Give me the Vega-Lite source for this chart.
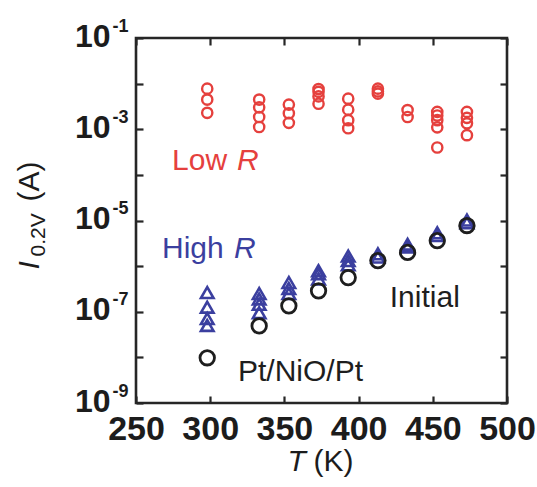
{
  "$schema": "https://vega.github.io/schema/vega-lite/v6.json",
  "width": 371,
  "height": 365,
  "autosize": "none",
  "padding": {"left": 136, "top": 38, "right": 30, "bottom": 84},
  "background": "white",
  "config": {
    "font": "Liberation Sans",
    "view": {"stroke": "#262626", "strokeWidth": 2.6},
    "axis": {
      "domain": false,
      "grid": false,
      "tickSize": -7,
      "tickWidth": 2.2,
      "tickColor": "#262626",
      "labelColor": "#1c1c1c",
      "titleColor": "#1c1c1c",
      "labelFont": "Liberation Sans",
      "titleFont": "Liberation Sans",
      "labelFlush": false,
      "labelOverlap": false,
      "labelBound": false,
      "titleFontWeight": "normal",
      "titleFontSize": 30,
      "titlePadding": 0
    }
  },
  "datasets": {
    "points": [
      {"series": "Low R", "T": 298, "I": 0.00776},
      {"series": "Low R", "T": 298, "I": 0.00447},
      {"series": "Low R", "T": 298, "I": 0.00229},
      {"series": "Low R", "T": 333, "I": 0.00447},
      {"series": "Low R", "T": 333, "I": 0.00302},
      {"series": "Low R", "T": 333, "I": 0.00186},
      {"series": "Low R", "T": 333, "I": 0.00112},
      {"series": "Low R", "T": 353, "I": 0.00347},
      {"series": "Low R", "T": 353, "I": 0.00224},
      {"series": "Low R", "T": 353, "I": 0.00138},
      {"series": "Low R", "T": 373, "I": 0.00759},
      {"series": "Low R", "T": 373, "I": 0.00661},
      {"series": "Low R", "T": 373, "I": 0.00525},
      {"series": "Low R", "T": 373, "I": 0.00363},
      {"series": "Low R", "T": 393, "I": 0.00468},
      {"series": "Low R", "T": 393, "I": 0.00269},
      {"series": "Low R", "T": 393, "I": 0.00158},
      {"series": "Low R", "T": 393, "I": 0.00105},
      {"series": "Low R", "T": 413, "I": 0.00776},
      {"series": "Low R", "T": 413, "I": 0.00676},
      {"series": "Low R", "T": 413, "I": 0.00603},
      {"series": "Low R", "T": 433, "I": 0.00263},
      {"series": "Low R", "T": 433, "I": 0.00186},
      {"series": "Low R", "T": 453, "I": 0.00240},
      {"series": "Low R", "T": 453, "I": 0.00200},
      {"series": "Low R", "T": 453, "I": 0.00158},
      {"series": "Low R", "T": 453, "I": 0.00110},
      {"series": "Low R", "T": 453, "I": 0.000398},
      {"series": "Low R", "T": 473, "I": 0.00240},
      {"series": "Low R", "T": 473, "I": 0.00178},
      {"series": "Low R", "T": 473, "I": 0.00135},
      {"series": "Low R", "T": 473, "I": 0.000741},
      {"series": "High R", "T": 298, "I": 2.63e-7},
      {"series": "High R", "T": 298, "I": 1.26e-7},
      {"series": "High R", "T": 298, "I": 7.08e-8},
      {"series": "High R", "T": 298, "I": 5.01e-8},
      {"series": "High R", "T": 333, "I": 2.51e-7},
      {"series": "High R", "T": 333, "I": 1.91e-7},
      {"series": "High R", "T": 333, "I": 1.45e-7},
      {"series": "High R", "T": 333, "I": 9.55e-8},
      {"series": "High R", "T": 353, "I": 4.37e-7},
      {"series": "High R", "T": 353, "I": 3.24e-7},
      {"series": "High R", "T": 353, "I": 2.51e-7},
      {"series": "High R", "T": 373, "I": 7.94e-7},
      {"series": "High R", "T": 373, "I": 6.76e-7},
      {"series": "High R", "T": 373, "I": 5.25e-7},
      {"series": "High R", "T": 393, "I": 1.66e-6},
      {"series": "High R", "T": 393, "I": 1.32e-6},
      {"series": "High R", "T": 393, "I": 1.07e-6},
      {"series": "High R", "T": 413, "I": 1.86e-6},
      {"series": "High R", "T": 413, "I": 1.58e-6},
      {"series": "High R", "T": 433, "I": 3.02e-6},
      {"series": "High R", "T": 433, "I": 2.63e-6},
      {"series": "High R", "T": 453, "I": 5.37e-6},
      {"series": "High R", "T": 453, "I": 4.68e-6},
      {"series": "High R", "T": 473, "I": 1.02e-5},
      {"series": "High R", "T": 473, "I": 8.91e-6},
      {"series": "Initial", "T": 298, "I": 9.8e-9},
      {"series": "Initial", "T": 333, "I": 4.9e-8},
      {"series": "Initial", "T": 353, "I": 1.35e-7},
      {"series": "Initial", "T": 373, "I": 2.88e-7},
      {"series": "Initial", "T": 393, "I": 5.6e-7},
      {"series": "Initial", "T": 413, "I": 1.32e-6},
      {"series": "Initial", "T": 433, "I": 2.0e-6},
      {"series": "Initial", "T": 453, "I": 3.63e-6},
      {"series": "Initial", "T": 473, "I": 7.76e-6}
    ],
    "words": [
      {"series": "Low R", "T": 274.3, "I": 0.000126, "label": "Low"},
      {"series": "High R", "T": 267.5, "I": 1.54e-6, "label": "High"},
      {"series": "Initial", "T": 421, "I": 1.245e-7, "label": "Initial"},
      {"series": "Initial", "T": 318.7, "I": 3.05e-9, "label": "Pt/NiO/Pt"}
    ],
    "italicWords": [
      {"series": "Low R", "T": 318, "I": 0.000126, "label": "R"},
      {"series": "High R", "T": 316, "I": 1.54e-6, "label": "R"}
    ]
  },
  "layer": [
    {
      "data": {"name": "points"},
      "mark": {"type": "point", "filled": false, "opacity": 1},
      "encoding": {
        "x": {
          "field": "T", "type": "quantitative",
          "scale": {"domain": [250, 500], "nice": false, "zero": false},
          "axis": {
            "orient": "bottom",
            "values": [250, 300, 350, 400, 450, 500],
            "labelFontSize": 34, "labelFontWeight": "bold", "labelPadding": 16.5,
            "title": "T", "titleFontStyle": "italic",
            "titleX": 151, "titleY": 67, "titleAlign": "left", "titleBaseline": "alphabetic", "titleAngle": 0
          }
        },
        "y": {
          "field": "I", "type": "quantitative",
          "scale": {"type": "log", "domain": [1e-9, 0.1], "nice": false},
          "axis": {
            "orient": "left",
            "values": [1e-9, 1e-8, 1e-7, 1e-6, 1e-5, 1e-4, 1e-3, 1e-2, 1e-1],
            "labelExpr": "abs(round(log(datum.value) / LN10)) % 2 == 1 ? '10' : ''",
            "labelFontSize": 32, "labelFontWeight": "bold", "labelPadding": 33,
            "labelAlign": "right", "labelBaseline": "middle", "labelOffset": -2,
            "title": "I", "titleFontStyle": "italic",
            "titleX": -98, "titleY": 231, "titleAngle": -90, "titleAlign": "left", "titleBaseline": "alphabetic"
          }
        },
        "color": {
          "field": "series", "type": "nominal",
          "scale": {"domain": ["Low R", "High R", "Initial"], "range": ["#e5403d", "#3b3f9f", "#1e1e1e"]},
          "legend": null
        },
        "shape": {
          "field": "series", "type": "nominal",
          "scale": {"domain": ["Low R", "High R", "Initial"], "range": ["circle", "triangle-up", "circle"]},
          "legend": null
        },
        "size": {
          "field": "series", "type": "nominal",
          "scale": {"domain": ["Low R", "High R", "Initial"], "range": [105, 210, 95]},
          "legend": null
        },
        "strokeWidth": {
          "field": "series", "type": "nominal",
          "scale": {"domain": ["Low R", "High R", "Initial"], "range": [2.4, 2.8, 2.7]},
          "legend": null
        }
      }
    },
    {
      "data": {"name": "words"},
      "mark": {"type": "text", "fontSize": 30, "align": "left", "baseline": "alphabetic"},
      "encoding": {
        "x": {
          "field": "T", "type": "quantitative",
          "axis": {
            "orient": "top",
            "values": [250, 300, 350, 400, 450, 500],
            "labels": false,
            "title": "(K)", "titleFontStyle": "normal",
            "titleX": 177, "titleY": 432, "titleAlign": "left", "titleBaseline": "alphabetic", "titleAngle": 0
          }
        },
        "y": {
          "field": "I", "type": "quantitative",
          "axis": {
            "orient": "left",
            "values": [1e-9, 1e-7, 1e-5, 1e-3, 1e-1],
            "ticks": false,
            "labelExpr": "'' + round(log(datum.value) / LN10)",
            "labelFontSize": 18, "labelFontWeight": "bold", "labelPadding": 24,
            "labelAlign": "left", "labelBaseline": "middle", "labelOffset": -12,
            "title": "0.2V", "titleFontSize": 21,
            "titleX": -92, "titleY": 218, "titleAngle": -90, "titleAlign": "left", "titleBaseline": "alphabetic"
          }
        },
        "text": {"field": "label", "type": "nominal"},
        "color": {"field": "series", "type": "nominal", "legend": null}
      }
    },
    {
      "data": {"name": "italicWords"},
      "mark": {"type": "text", "fontSize": 30, "fontStyle": "italic", "align": "left", "baseline": "alphabetic"},
      "encoding": {
        "x": {"field": "T", "type": "quantitative", "axis": null},
        "y": {
          "field": "I", "type": "quantitative",
          "axis": {
            "orient": "right",
            "values": [1e-9, 1e-8, 1e-7, 1e-6, 1e-5, 1e-4, 1e-3, 1e-2, 1e-1],
            "labels": false,
            "title": "(A)",
            "titleX": -469, "titleY": 163, "titleAngle": -90, "titleAlign": "left", "titleBaseline": "alphabetic"
          }
        },
        "text": {"field": "label", "type": "nominal"},
        "color": {"field": "series", "type": "nominal", "legend": null}
      }
    }
  ],
  "resolve": {"axis": {"x": "independent", "y": "independent"}}
}
